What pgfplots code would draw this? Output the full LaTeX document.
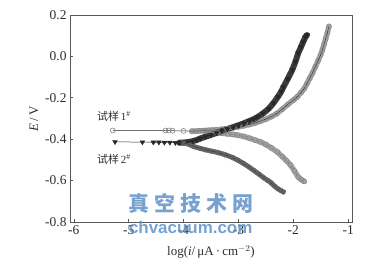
\documentclass[border=0pt]{standalone}
\usepackage{pgfplots}
\usepackage{pgfplotstable}
\pgfplotsset{compat=1.18}
\usepackage{fontspec}
\setmainfont{Liberation Serif}
\newfontfamily\cjk{Noto Sans CJK SC}
\newfontfamily\wmfont{Liberation Sans}
\definecolor{textgray}{RGB}{45,45,45}
\definecolor{sOne}{RGB}{135,135,135}
\definecolor{sTwo}{RGB}{40,40,40}
\definecolor{wmblue}{RGB}{95,145,200}
\pgfplotstableread{
x y
-5.29 -0.358
-4.33 -0.358
-4.27 -0.358
-4.20 -0.359
-4.00 -0.360
-3.85 -0.361
-3.78 -0.361
-3.72 -0.360
-3.66 -0.359
-3.60 -0.358
-3.54 -0.357
-3.48 -0.356
-3.40 -0.355
-3.30 -0.352
-3.20 -0.349
-3.10 -0.345
-3.00 -0.340
-2.90 -0.335
-2.80 -0.329
-2.70 -0.322
-2.60 -0.313
-2.50 -0.303
-2.40 -0.291
-2.30 -0.276
-2.20 -0.255
-2.10 -0.232
-2.00 -0.211
-1.93 -0.196
-1.86 -0.175
-1.80 -0.155
-1.75 -0.131
-1.70 -0.105
-1.65 -0.080
-1.60 -0.051
-1.55 -0.022
-1.50 0.008
-1.47 0.031
-1.44 0.058
-1.41 0.085
-1.38 0.113
-1.35 0.145
}\sOneA
\pgfplotstableread{
x y
-3.60 -0.362
-3.50 -0.365
-3.40 -0.368
-3.30 -0.371
-3.20 -0.374
-3.10 -0.377
-3.02 -0.380
-2.90 -0.387
-2.80 -0.395
-2.70 -0.404
-2.60 -0.413
-2.50 -0.426
-2.40 -0.442
-2.29 -0.462
-2.20 -0.484
-2.12 -0.505
-2.05 -0.525
-1.98 -0.553
-1.91 -0.583
-1.85 -0.596
-1.80 -0.604
}\sOneC
\pgfplotstableread{
x y
-5.25 -0.413
-4.75 -0.414
-4.55 -0.415
-4.45 -0.415
-4.35 -0.416
-4.25 -0.416
-4.15 -0.417
-4.08 -0.417
-4.00 -0.416
-3.92 -0.414
-3.84 -0.410
-3.76 -0.404
-3.69 -0.396
-3.60 -0.388
-3.50 -0.379
-3.40 -0.370
-3.30 -0.360
-3.20 -0.351
-3.09 -0.341
-3.00 -0.333
-2.90 -0.323
-2.80 -0.312
-2.72 -0.303
-2.65 -0.293
-2.55 -0.275
-2.45 -0.253
-2.36 -0.225
-2.28 -0.195
-2.22 -0.170
-2.18 -0.148
-2.10 -0.108
-2.02 -0.066
-1.96 -0.025
-1.91 0.016
-1.86 0.045
-1.82 0.070
-1.78 0.094
-1.75 0.103
}\sTwoA
\pgfplotstableread{
x y
-4.00 -0.418
-3.90 -0.425
-3.82 -0.435
-3.70 -0.444
-3.60 -0.451
-3.50 -0.457
-3.38 -0.464
-3.25 -0.474
-3.12 -0.487
-3.02 -0.500
-2.92 -0.515
-2.82 -0.532
-2.73 -0.549
-2.64 -0.566
-2.55 -0.584
-2.48 -0.597
-2.42 -0.607
-2.35 -0.625
-2.29 -0.638
-2.24 -0.646
-2.18 -0.655
}\sTwoC
\begin{document}
\begin{tikzpicture}
\begin{axis}[
  scale only axis, width=282bp, height=207bp,
  xmin=-6.07, xmax=-0.93, ymin=-0.8, ymax=0.2,
  xtick={-6,-5,-4,-3,-2,-1},
  ytick={-0.8,-0.6,-0.4,-0.2,0,0.2},
  yticklabel style={/pgf/number format/.cd, fixed, fixed zerofill, precision=1, assume math mode=true},
  xticklabel style={/pgf/number format/assume math mode=true},
  tick align=inside, xtick pos=bottom, ytick pos=left,
  major tick length=3bp,
  tick label style={font=\fontsize{13.5}{13.5}\selectfont, text=textgray},
  axis line style={gray!70!black, line width=0.7pt},
  tick style={gray!70!black, line width=0.6pt},
  xlabel={log(\textit{i}/\,μA\,·\,cm$^{-2}$)},
  ylabel={\textit{E}\,/\,V},
  label style={font=\fontsize{13}{13}\selectfont, text=textgray},
  xlabel style={yshift=-4bp},
  clip=false,
]
% underlay bands for the dense parts
\addplot[sOne!75!white, line width=5.5pt, line cap=round, line join=round, restrict x to domain=-3.9:0] table {\sOneA};
\addplot[sOne!75!white, line width=5.5pt, line cap=round, line join=round] table {\sOneC};
\addplot[sTwo!90!white, line width=6pt, line cap=round, line join=round, restrict x to domain=-4.1:0] table {\sTwoA};
\addplot[sTwo!70!white, line width=5pt, line cap=round, line join=round] table {\sTwoC};
% sample 1 (open circles)
\addplot[color=sTwo, line width=0.5pt, mark=o, mark size=2.5pt,
  mark options={draw=sOne, fill=white, line width=0.6pt}] table {\sOneA};
\addplot[color=sOne, line width=0.5pt, mark=o, mark size=2.5pt,
  mark options={draw=sOne, fill=white, line width=0.6pt}] table {\sOneC};
% sample 2 (filled triangles)
\addplot[color=sTwo, line width=0.5pt, mark=triangle*, mark size=2.7pt,
  mark options={rotate=180, draw=sTwo, fill=sTwo}] table {\sTwoA};
\addplot[color=sTwo, line width=0.5pt, mark=triangle*, mark size=2.5pt,
  mark options={rotate=180, draw=sTwo!75!white, fill=sTwo!75!white}] table {\sTwoC};
\node[anchor=west, text=textgray, inner sep=0pt] at (axis cs:-5.58,-0.29)
  {\fontsize{11}{11}\selectfont\cjk 试样\,\rmfamily 1\textsuperscript{\#}};
\node[anchor=west, text=textgray, inner sep=0pt] at (axis cs:-5.58,-0.496)
  {\fontsize{11}{11}\selectfont\cjk 试样\,\rmfamily 2\textsuperscript{\#}};
\node[text=wmblue, opacity=0.85, inner sep=0pt] at (axis cs:-3.87,-0.708)
  {\fontsize{21}{21}\selectfont\cjk\bfseries 真\hspace{5bp}空\hspace{5bp}技\hspace{5bp}术\hspace{5bp}网};
\node[text=wmblue, opacity=0.85, inner sep=0pt] at (axis cs:-3.87,-0.824)
  {\fontsize{17}{17}\selectfont\wmfont\bfseries chvacuum.com};
\end{axis}
\pgfresetboundingbox
\path (current axis.south west) ++(-70bp,-45bp) rectangle ++(376bp,267bp);
\end{tikzpicture}
\end{document}
